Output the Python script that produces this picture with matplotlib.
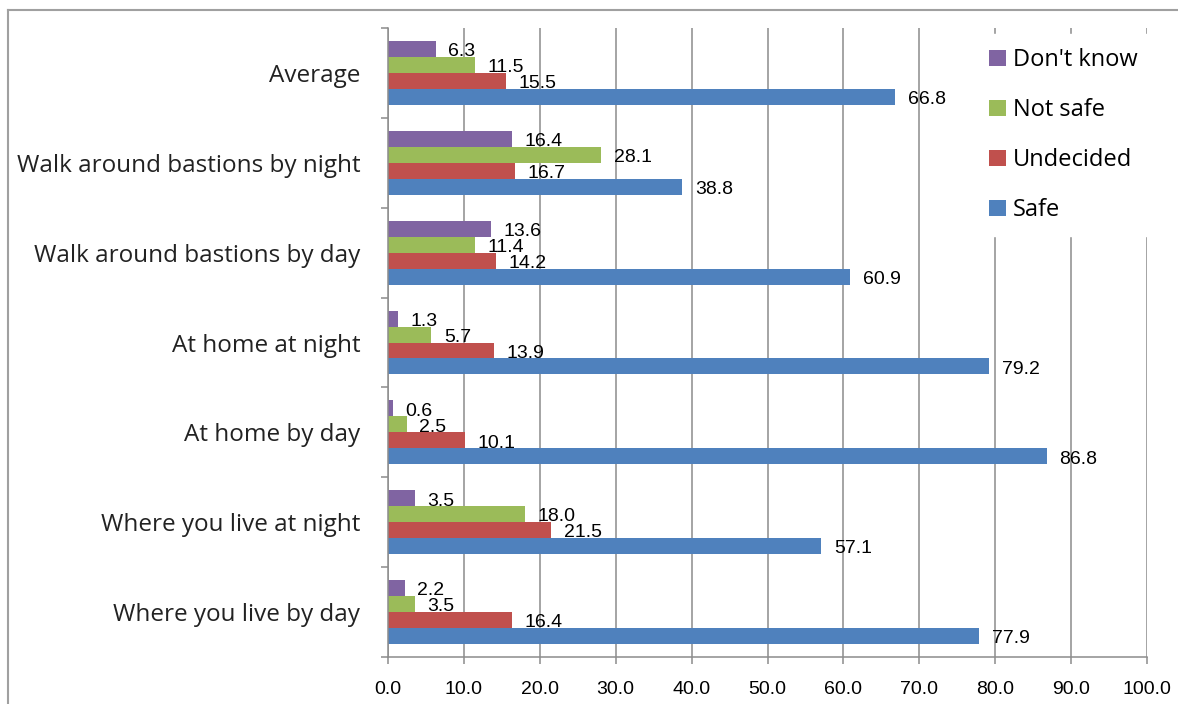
import matplotlib
matplotlib.use('Agg')
from matplotlib import pyplot as plt
from matplotlib.lines import Line2D
from matplotlib.patches import Patch
import numpy as np

plt.rcParams['font.family'] = ['Open Sans', 'DejaVu Sans']

categories = ['Where you live by day', 'Where you live at night', 'At home by day',
              'At home at night', 'Walk around bastions by day',
              'Walk around bastions by night', 'Average']
series_names = ['Safe', 'Undecided', 'Not safe', "Don't know"]
safe = [77.9, 57.1, 86.8, 79.2, 60.9, 38.8, 66.8]
undecided = [16.4, 21.5, 10.1, 13.9, 14.2, 16.7, 15.5]
not_safe = [3.5, 18.0, 2.5, 5.7, 11.4, 28.1, 11.5]
dont_know = [2.2, 3.5, 0.6, 1.3, 13.6, 16.4, 6.3]
x_ticks = [0, 10, 20, 30, 40, 50, 60, 70, 80, 90, 100]

colors = ['#4F81BD', '#C0504D', '#9BBB59', '#8064A2']
grid_col = '#8c8c8c'
narrow = ['Liberation Sans Narrow', 'Liberation Sans']

fig = plt.figure(figsize=(11.78, 7.04), dpi=100)
ax = fig.add_axes([388/1178, 1 - 657/704, (1147 - 388)/1178, (657 - 28)/704])

y = np.arange(len(categories))
bh = 0.178
offsets = [-1.5*bh, -0.5*bh, 0.5*bh, 1.5*bh]
all_vals = [safe, undecided, not_safe, dont_know]
for vals, off, col, name in zip(all_vals, offsets, colors, series_names):
    ax.barh(y + off, vals, height=bh, color=col, label=name, zorder=3)
    for yi, v in zip(y, vals):
        ax.annotate('{:.1f}'.format(v), (v, yi + off), xytext=(9, -2),
                    textcoords='offset points', ha='left', va='center',
                    fontsize=14, color='#000000', zorder=4, family=narrow)

ax.set_xlim(0, 100)
ax.set_ylim(-0.5, len(categories) - 0.5)
ax.set_xticks(x_ticks)
ax.set_xticklabels(['{:.1f}'.format(t) for t in x_ticks], fontsize=14, family=narrow)
ax.set_yticks(y)
ax.set_yticklabels(categories, fontsize=17.5, color='#222222')
ax.set_yticks(np.arange(-0.5, len(categories)), minor=True)
ax.tick_params(axis='y', which='major', length=0, pad=20)
ax.tick_params(axis='y', which='minor', length=5, width=1.1, color=grid_col, direction='out')
ax.tick_params(axis='x', length=5, width=1.1, color=grid_col, direction='out', pad=12)

ax.grid(axis='x', color=grid_col, lw=1.1, zorder=1)
ax.set_axisbelow(True)
for s in ['top', 'right']:
    ax.spines[s].set_visible(False)
for s in ['left', 'bottom']:
    ax.spines[s].set_color(grid_col)
    ax.spines[s].set_linewidth(1.1)
    ax.spines[s].set_zorder(5)

handles = [Patch(facecolor=c, edgecolor='none') for c in colors][::-1]
leg = ax.legend(handles, series_names[::-1], loc='upper left',
                bbox_to_anchor=(975/1178, 1 - 34/704), bbox_transform=fig.transFigure,
                fontsize=17, frameon=True, fancybox=False, framealpha=1,
                edgecolor='white', facecolor='white', borderpad=0.6,
                handlelength=0.7, handleheight=0.7, handletextpad=0.3,
                labelspacing=1.1, borderaxespad=0)
leg.set_zorder(6)

# outer chart border
fig.add_artist(Line2D([8/1178, 8/1178], [0, 1 - 10/704], color='#a0a0a0', lw=1.5))
fig.add_artist(Line2D([8/1178, 1], [1 - 10/704, 1 - 10/704], color='#a0a0a0', lw=1.5))

fig.savefig('out.png', dpi=100)
